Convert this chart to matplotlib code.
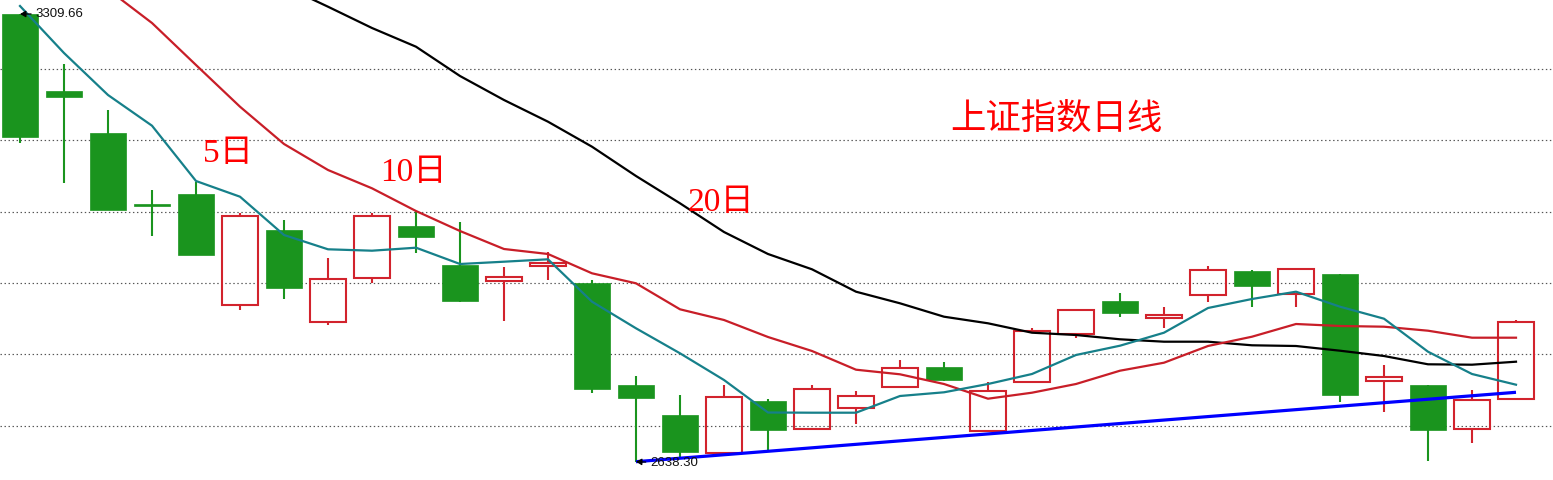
import numpy as np
import matplotlib
matplotlib.use("Agg")
import matplotlib.pyplot as plt

nan = np.nan

# Daily OHLC of the Shanghai Composite
opens = [3309.66, 3194.64, 3131.20, 3025.48, 3039.73, 2872.82, 2985.74, 2847.33, 2913.31, 2991.74,
         2933.26, 2909.71, 2932.21, 2906.26, 2753.30, 2708.32, 2650.88, 2729.31, 2686.87, 2718.36,
         2749.85, 2780.30, 2683.87, 2757.35, 2829.33, 2879.27, 2853.33, 2887.82, 2924.26, 2889.32,
         2919.76, 2758.85, 2753.30, 2686.87, 2731.86]
highs = [3309.66, 3234.68, 3165.69, 3045.73, 3058.17, 3010.79, 3000.74, 2943.75, 3010.79, 3014.68,
         2998.19, 2930.26, 2953.20, 2910.76, 2767.25, 2738.31, 2753.30, 2731.86, 2753.30, 2744.31,
         2790.79, 2787.79, 2757.35, 2838.78, 2867.27, 2891.27, 2870.27, 2931.76, 2925.76, 2928.76,
         2919.76, 2783.30, 2753.30, 2745.81, 2850.78]
lows = [3115.76, 3056.67, 3015.73, 2977.19, 2948.70, 2866.22, 2882.72, 2843.73, 2905.81, 2950.80,
        2877.77, 2849.73, 2910.76, 2741.76, 2638.30, 2645.78, 2650.88, 2655.83, 2686.87, 2695.27,
        2749.85, 2759.30, 2683.87, 2757.35, 2823.34, 2855.73, 2839.23, 2878.22, 2870.72, 2870.72,
        2728.26, 2713.26, 2638.60, 2666.78, 2731.86]
closes = [3124.76, 3185.64, 3015.73, 3022.48, 2948.70, 3006.29, 2899.21, 2911.81, 3006.29, 2975.69,
          2879.72, 2914.81, 2936.70, 2747.76, 2734.26, 2653.28, 2734.86, 2686.27, 2746.86, 2736.36,
          2778.35, 2761.25, 2743.86, 2833.83, 2865.32, 2861.28, 2857.83, 2925.31, 2902.21, 2926.81,
          2738.76, 2764.85, 2686.27, 2730.36, 2847.33]

# Moving averages (5, 10 and 20 days)
ma5 = [3321.65, 3251.17, 3188.19, 3142.15, 3059.22, 3035.68, 2978.24, 2956.80, 2954.70, 2959.20,
       2934.76, 2938.20, 2941.80, 2878.22, 2838.33, 2800.84, 2760.80, 2712.06, 2711.76, 2711.76,
       2736.81, 2742.36, 2754.80, 2769.80, 2798.29, 2812.24, 2831.73, 2868.77, 2882.27, 2893.22,
       2870.72, 2852.73, 2803.24, 2769.80, 2753.75]
ma10 = [nan, nan, 3346.40, 3296.16, 3233.18, 3170.64, 3114.71, 3075.72, 3048.27, 3014.23,
        2984.24, 2957.25, 2949.75, 2920.81, 2905.81, 2866.82, 2850.78, 2825.28, 2804.29, 2776.25,
        2769.35, 2754.80, 2732.76, 2741.76, 2754.80, 2774.75, 2786.74, 2811.79, 2825.73, 2844.78,
        2841.78, 2840.73, 2834.73, 2824.24, 2824.24]
ma20 = [nan, nan, nan, nan, nan, nan, 3351.64, 3320.60, 3288.66, 3260.62,
        3216.68, 3180.69, 3148.15, 3110.66, 3066.72, 3025.78, 2982.74, 2949.75, 2926.81, 2893.22,
        2875.82, 2855.73, 2845.83, 2831.73, 2828.28, 2821.84, 2818.24, 2818.24, 2812.84, 2811.79,
        2804.74, 2796.79, 2784.35, 2783.75, 2788.24]

# Support line drawn from the period low
trend_idx = [14, 34]
trend_val = [2638.30, 2742.36]

# Horizontal reference levels
grid_levels = [3227.18, 3120.26, 3013.33, 2906.26, 2799.34, 2692.42]

hi_idx, hi_val = 0, 3309.66
lo_idx, lo_val = 14, 2638.30

UP = "#d2232d"
DOWN = "#1a941e"
C_MA5 = "#16808a"
C_MA10 = "#c81e28"
C_MA20 = "#000000"
C_TREND = "#0000ff"
C_NOTE = "#ff0000"

fig = plt.figure(figsize=(15.53, 4.80), dpi=100)
ax = fig.add_axes([0, 0, 1, 1])
ax.set_axis_off()
ax.set_xlim(-0.4545, 34.841)
ax.set_ylim(2610.84, 3330.65)

for lvl in grid_levels:
    ax.axhline(lvl, color="#555555", lw=0.85, linestyle=(0, (1.2, 2.2)), zorder=0)

x = np.arange(len(opens))
o = np.array(opens); h = np.array(highs); l = np.array(lows); c = np.array(closes)
width = 0.82
for i in x:
    top = max(o[i], c[i]); bot = min(o[i], c[i])
    if c[i] >= o[i]:
        ax.vlines(i, top, h[i], color=UP, lw=1.5, zorder=2)
        ax.vlines(i, l[i], bot, color=UP, lw=1.5, zorder=2)
        ax.bar(i, top - bot, width=width, bottom=bot, fill=False,
               edgecolor=UP, linewidth=1.5, zorder=2)
    else:
        ax.vlines(i, l[i], h[i], color=DOWN, lw=1.5, zorder=2)
        ax.bar(i, max(top - bot, 1.5), width=width, bottom=bot, color=DOWN,
               edgecolor=DOWN, linewidth=0.5, zorder=2)

ax.plot(x, ma20, color=C_MA20, lw=1.6, zorder=3)
ax.plot(x, ma10, color=C_MA10, lw=1.6, zorder=3)
ax.plot(x, ma5, color=C_MA5, lw=1.6, zorder=3)
ax.plot(trend_idx, trend_val, color=C_TREND, lw=2.3, zorder=4, solid_capstyle="butt")

arrow = dict(arrowstyle="-|>,head_length=0.35,head_width=0.2", color="black",
             lw=0.9, shrinkA=1, shrinkB=0)
ax.annotate(f"{hi_val:.2f}", xy=(hi_idx, hi_val), xytext=(11, 0),
            textcoords="offset points", va="center", ha="left", fontsize=9.5,
            family="Liberation Sans", color="#111111", arrowprops=arrow, zorder=5)
ax.annotate(f"{lo_val:.2f}", xy=(lo_idx, lo_val), xytext=(10, -1),
            textcoords="offset points", va="center", ha="left", fontsize=9.5,
            family="Liberation Sans", color="#111111", arrowprops=arrow, zorder=5)

mixed = ["Liberation Serif", "Noto Sans CJK SC"]
ax.text(21.14, 3152.0, "上证指数日线", color=C_NOTE, fontsize=25.5,
        family=["Noto Sans CJK SC"], va="center", ha="left", zorder=5)
ax.text(4.16, 3100.0, "5日", color=C_NOTE, fontsize=24, family=mixed,
        va="center", ha="left", zorder=5)
ax.text(8.18, 3071.5, "10日", color=C_NOTE, fontsize=24, family=mixed,
        va="center", ha="left", zorder=5)
ax.text(15.18, 3026.5, "20日", color=C_NOTE, fontsize=24, family=mixed,
        va="center", ha="left", zorder=5)

fig.savefig("out.png", dpi=100)
